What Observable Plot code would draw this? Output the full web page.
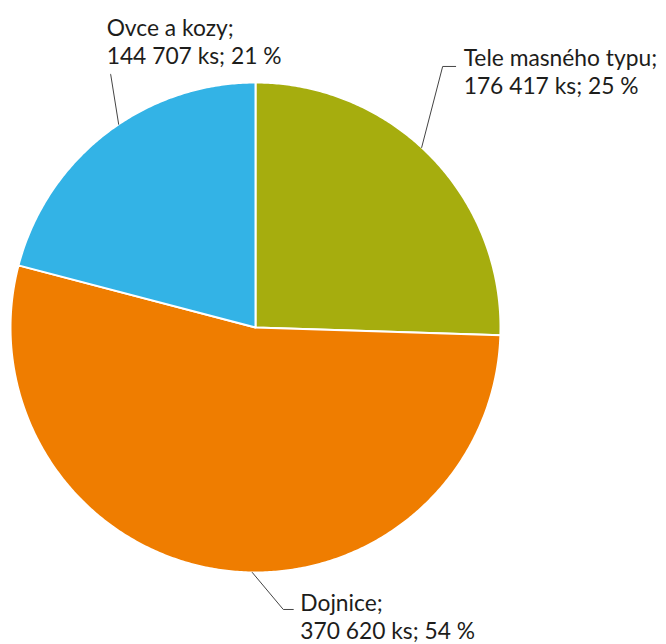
<!DOCTYPE html>
<html><head><meta charset="utf-8">
<script src="https://cdn.jsdelivr.net/npm/d3@7"></script>
<script src="https://cdn.jsdelivr.net/npm/@observablehq/plot@0.6"></script>
<style>body{margin:0;background:#fff;}</style>
</head><body><div id="chart"></div>
<script>
// ---- data ----
const categories = ["Tele masného typu", "Dojnice", "Ovce a kozy"];
const counts = [176417, 370620, 144707];
const percentLabels = ["25 %", "54 %", "21 %"];
const colors = ["#A6AD0E", "#EF7D00", "#33B3E6"];

// ---- layout (pixels) ----
const W = 666, H = 644;
const CX = 255, CY = 327, R = 245;
// per label: angular nudge from slice mid-angle (deg), elbow offset, tail length, text gap, text top offset
const labelLayout = [
  {nudge: -3.2, elbow: [21, -81], tail: 13, gapX: 8, topY: -20},
  {nudge: -7.5, elbow: [31, 37], tail: 10, gapX: 7, topY: -18},
  {nudge: 3.7, elbow: [-8, -50], tail: 0, gapX: -4, topY: -58}
];

const rows = categories.map((c, i) => ({name: c, count: counts[i], pct: percentLabels[i]}));
const arcs = d3.pie().sort(null).value(d => d.count)(rows);

const fmt = n => d3.format(",")(n).replace(/,/g, " ");

// unit-space coordinates (center 0,0; radius 1; y up)
const rim = a => [Math.sin(a), Math.cos(a)];
const px = ([dx, dy]) => [dx / R, -dy / R];

const wedges = arcs.map(a => {
  const ring = [[0, 0]];
  const n = Math.max(8, Math.ceil((a.endAngle - a.startAngle) / (Math.PI / 360)));
  for (let k = 0; k <= n; k++) ring.push(rim(a.startAngle + (a.endAngle - a.startAngle) * k / n));
  ring.push([0, 0]);
  return {type: "Feature", properties: {name: a.data.name}, geometry: {type: "Polygon", coordinates: [ring]}};
});

const leaderPts = [];
const labels = [];
arcs.forEach((a, i) => {
  const L = labelLayout[i];
  const mid = (a.startAngle + a.endAngle) / 2 + L.nudge * Math.PI / 180;
  const p0 = rim(mid);
  const e = px(L.elbow);
  const p1 = [p0[0] + e[0], p0[1] + e[1]];
  const p2 = [p1[0] + L.tail / R, p1[1]];
  leaderPts.push({id: i, x: p0[0], y: p0[1]}, {id: i, x: p1[0], y: p1[1]}, {id: i, x: p2[0], y: p2[1]});
  labels.push({
    x: p2[0] + L.gapX / R,
    y: p1[1] - L.topY / R,
    text: `${a.data.name};\n${fmt(a.data.count)} ks; ${a.data.pct}`
  });
});

const projection = d3.geoIdentity().reflectY(true).scale(R).translate([CX, CY]);

const chart = Plot.plot({
  width: W,
  height: H,
  margin: 0,
  projection,
  color: {domain: categories, range: colors},
  style: {fontFamily: "Lato, 'Open Sans', sans-serif", background: "#fff"},
  marks: [
    Plot.geo(wedges, {fill: d => d.properties.name, stroke: "#fff", strokeWidth: 2, strokeLinejoin: "round"}),
    Plot.line(leaderPts, {x: "x", y: "y", z: "id", stroke: "#444", strokeWidth: 1, curve: "linear"}),
    Plot.text(labels, {x: "x", y: "y", text: "text", textAnchor: "start", lineAnchor: "top",
      fontSize: 22.8, lineHeight: 1.23, fill: "#1d1d1b"})
  ]
});
document.getElementById("chart").appendChild(chart);
</script>
</body></html>
